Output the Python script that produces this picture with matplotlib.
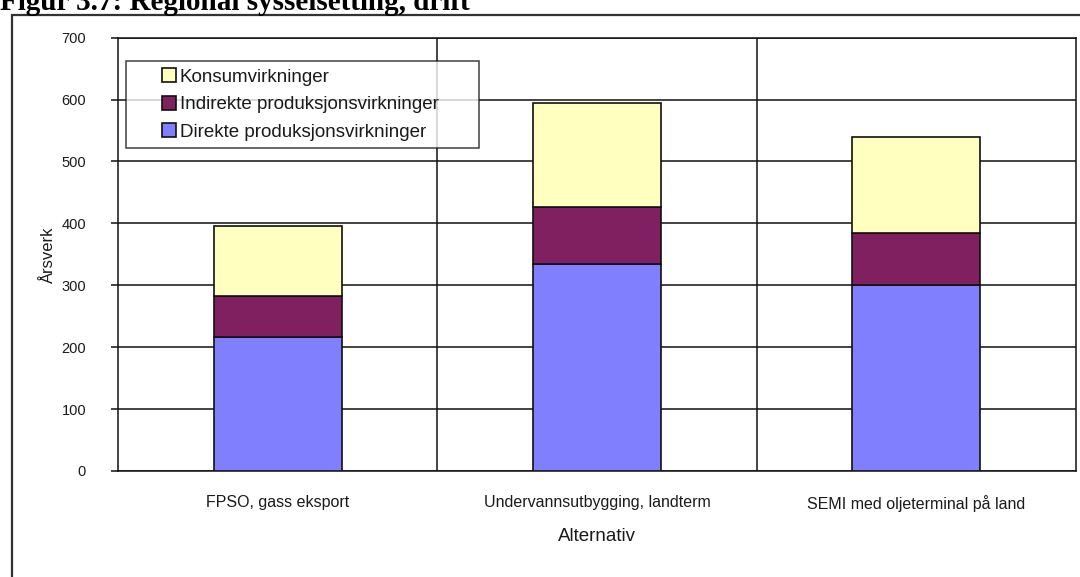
import matplotlib
matplotlib.use("Agg")
import matplotlib.pyplot as plt
from matplotlib.legend_handler import HandlerPatch
from matplotlib.patches import Rectangle
import numpy as np

plt.rcParams['font.family'] = ['Liberation Sans', 'DejaVu Sans']

categories = ["FPSO, gass eksport", "Undervannsutbygging, landterm", "SEMI med oljeterminal på land"]
direkte = [216, 335, 300]
indirekte = [66, 92, 84]
konsum = [113, 168, 156]
series_names = ["Direkte produksjonsvirkninger", "Indirekte produksjonsvirkninger", "Konsumvirkninger"]
yticks = [0, 100, 200, 300, 400, 500, 600, 700]

colors = ["#8080FF", "#802060", "#FFFFC0"]
text_color = "#1a1a1a"
line_color = "#111111"

fig = plt.figure(figsize=(10.8, 5.77), dpi=100)

# page caption above the chart frame
fig.text(0.0, 1 - 10 / 577, "Figur 3.7: Regional sysselsetting, drift", family="Liberation Serif",
         weight="bold", fontsize=21, va="baseline", ha="left", color="black")

# outer chart frame
frame = Rectangle((12 / 1080, -0.05), 1.2, 1 - 15 / 577 + 0.05, transform=fig.transFigure,
                  fill=False, edgecolor="#333333", linewidth=1.6, zorder=0)
fig.add_artist(frame)

ax = fig.add_axes([118 / 1080, 1 - 471 / 577, (1076 - 118) / 1080, (471 - 37.7) / 577])

x = np.arange(len(categories))
width = 0.40
bottoms = np.zeros(len(categories))
bars = []
for vals, name, col in zip([direkte, indirekte, konsum], series_names, colors):
    b = ax.bar(x, vals, width, bottom=bottoms, color=col, edgecolor=line_color,
               linewidth=1.2, label=name, zorder=3)
    bars.append(b)
    bottoms += np.array(vals)

ax.set_xlim(-0.5, len(categories) - 0.5)
ax.set_ylim(0, 700)
ax.set_yticks(yticks)
ax.set_yticklabels([str(t) for t in yticks], fontsize=10.5, color=text_color)
ax.yaxis.grid(True, color=line_color, linewidth=1.1, zorder=0)
for xv in np.arange(0.5, len(categories) - 0.5, 1.0):
    ax.axvline(xv, color=line_color, linewidth=1.1, zorder=0)

ax.set_xticks(x)
ax.set_xticklabels(categories, fontsize=11.5, color=text_color)
ax.tick_params(axis="x", length=0, pad=17)
ax.tick_params(axis="y", length=5, width=1.1, color=line_color, pad=18)
for s in ax.spines.values():
    s.set_color(line_color)
    s.set_linewidth(1.1)

ax.set_xlabel("Alternativ", fontsize=13.5, color=text_color, labelpad=12)
ax.set_ylabel("Årsverk", fontsize=12, color=text_color, labelpad=4)


def small_square(legend, orig_handle, xdescent, ydescent, width, height, fontsize):
    side = 10.0
    return Rectangle((-xdescent + width - side, -ydescent + (height - side) / 2), side, side)


handles = [bars[2][0], bars[1][0], bars[0][0]]
labels = [series_names[2], series_names[1], series_names[0]]
leg_w = (479 - 126) / 958
leg_h = (145 - 61) / 433.3
leg_top = 1 - (61 - 37.7) / 433.3
leg = ax.legend(handles, labels, loc="upper left",
                bbox_to_anchor=((126 - 118) / 958, leg_top - leg_h, leg_w, leg_h),
                mode="expand", fontsize=13.5, frameon=True, fancybox=False, handlelength=2.25,
                handleheight=0.7, handletextpad=0.22, borderpad=0.4, labelspacing=0.56,
                borderaxespad=0,
                handler_map={Rectangle: HandlerPatch(patch_func=small_square)})
leg.get_frame().set_edgecolor(line_color)
leg.get_frame().set_linewidth(1.1)
leg.set_zorder(5)
for t in leg.get_texts():
    t.set_color(text_color)

fig.savefig("out.png", dpi=100)
